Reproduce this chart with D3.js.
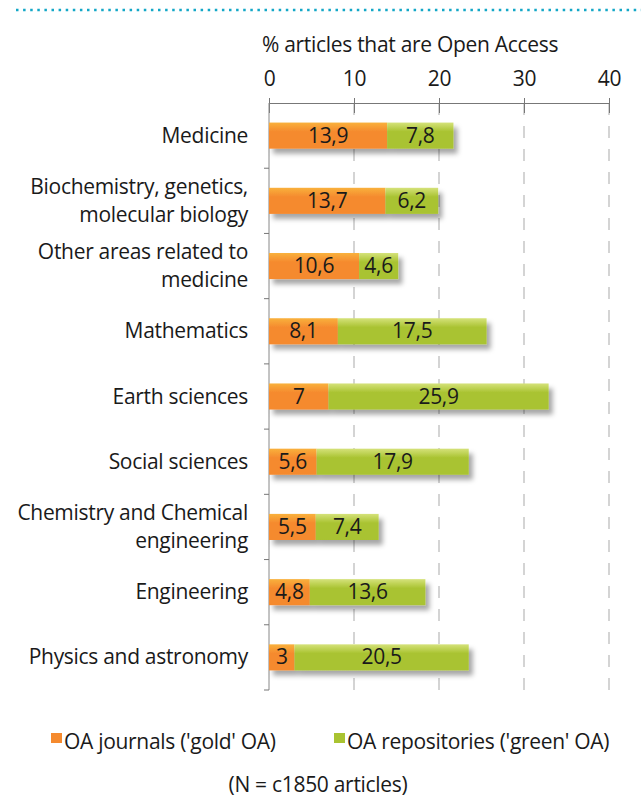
<!DOCTYPE html>
<html>
<head>
<meta charset="utf-8">
<script src="https://cdn.jsdelivr.net/npm/d3@7"></script>
<style>
  body { margin: 0; background: #fff; }
  svg text { font-family: "Open Sans", sans-serif; fill: #1a1a1a; letter-spacing: -0.3px; }
</style>
</head>
<body>
<svg id="chart" width="641" height="800"></svg>
<script>
const categories = [
  ['Medicine'],
  ['Biochemistry, genetics,', 'molecular biology'],
  ['Other areas related to', 'medicine'],
  ['Mathematics'],
  ['Earth sciences'],
  ['Social sciences'],
  ['Chemistry and Chemical', 'engineering'],
  ['Engineering'],
  ['Physics and astronomy']
];
const goldValues = [13.9, 13.7, 10.6, 8.1, 7, 5.6, 5.5, 4.8, 3];
const greenValues = [7.8, 6.2, 4.6, 17.5, 25.9, 17.9, 7.4, 13.6, 20.5];
const xTicks = [0, 10, 20, 30, 40];
const legendLabels = ["OA journals ('gold' OA)", "OA repositories ('green' OA)"];

const fontSize = 21;

const svg = d3.select('#chart'),
    margin = {top: 103, right: 32, bottom: 110, left: 269},
    width = 340,
    height = 587,
    g = svg.append('g').attr('transform', `translate(${margin.left},${margin.top})`);

const defs = svg.append('defs');
const grad = (id, top, bottom) => {
  const lg = defs.append('linearGradient').attr('id', id)
    .attr('x1', 0).attr('y1', 0).attr('x2', 0).attr('y2', 1);
  lg.append('stop').attr('offset', '0%').attr('stop-color', top);
  lg.append('stop').attr('offset', '35%').attr('stop-color', bottom);
  lg.append('stop').attr('offset', '100%').attr('stop-color', bottom);
};
grad('goldGrad', '#f9b13c', '#f58a2e');
grad('greenGrad', '#d5e27a', '#a9c331');
const shadow = defs.append('filter').attr('id', 'shadow')
  .attr('x', '-5%').attr('y', '-20%').attr('width', '115%').attr('height', '170%');
shadow.append('feDropShadow').attr('dx', 4).attr('dy', 5).attr('stdDeviation', 2.5)
  .attr('flood-color', '#000').attr('flood-opacity', 0.35);

// dotted rule at the top
svg.append('line')
  .attr('x1', 16).attr('x2', 641).attr('y1', 10).attr('y2', 10)
  .attr('stroke', '#13a7c7').attr('stroke-width', 2.5)
  .attr('stroke-dasharray', '2.5,4.6');

const x = d3.scaleLinear().domain([0, 40]).range([0, width]);
const y = d3.scaleBand().domain(d3.range(categories.length)).range([0, height]).paddingInner(0.6).paddingOuter(0.3);

// dashed gridlines
g.selectAll('.grid').data(xTicks.slice(1)).join('line')
  .attr('x1', d => x(d)).attr('x2', d => x(d))
  .attr('y1', 0).attr('y2', height)
  .attr('stroke', '#bdbdbd').attr('stroke-width', 1.3)
  .attr('stroke-dasharray', '12,11');

// top axis
const xAxis = g.append('g')
  .call(d3.axisTop(x).tickValues(xTicks).tickSize(5).tickPadding(12));
xAxis.select('.domain').attr('stroke', '#777');
xAxis.selectAll('.tick line').attr('stroke', '#777').attr('y2', -5).attr('y1', 10);
xAxis.selectAll('.tick text').attr('font-size', fontSize).attr('fill', '#1a1a1a')
  .style('font-family', '"Open Sans", sans-serif');

svg.append('text')
  .attr('x', 262).attr('y', 52)
  .attr('font-size', fontSize)
  .text('% articles that are Open Access');

// left axis with ticks between categories
g.append('line').attr('x1', 0).attr('x2', 0).attr('y1', 0).attr('y2', height)
  .attr('stroke', '#888');
g.selectAll('.ytick').data(d3.range(1, categories.length + 1)).join('line')
  .attr('x1', -5).attr('x2', 0)
  .attr('y1', d => d * height / categories.length).attr('y2', d => d * height / categories.length)
  .attr('stroke', '#777');

// category labels
const labels = g.selectAll('.cat').data(categories).join('text')
  .attr('text-anchor', 'end')
  .attr('font-size', fontSize)
  .attr('transform', (d, i) => `translate(-21,${y(i) + y.bandwidth() / 2})`);
labels.selectAll('tspan').data(d => d.map((t, j) => ({t, j, n: d.length}))).join('tspan')
  .attr('x', 0)
  .attr('y', d => (d.j - (d.n - 1) / 2) * 28 + 7)
  .text(d => d.t);

// bars
const rows = g.selectAll('.row').data(categories).join('g').attr('filter', 'url(#shadow)');
rows.append('rect')
  .attr('x', x(0)).attr('y', (d, i) => y(i))
  .attr('width', (d, i) => x(goldValues[i]) - x(0))
  .attr('height', y.bandwidth())
  .attr('fill', 'url(#goldGrad)');
rows.append('rect')
  .attr('x', (d, i) => x(goldValues[i])).attr('y', (d, i) => y(i))
  .attr('width', (d, i) => x(goldValues[i] + greenValues[i]) - x(goldValues[i]))
  .attr('height', y.bandwidth())
  .attr('fill', 'url(#greenGrad)');

const fmt = v => String(v).replace('.', ',');
g.selectAll('.gl').data(goldValues).join('text')
  .attr('x', d => x(d / 2)).attr('y', (d, i) => y(i) + y.bandwidth() / 2 + 7)
  .attr('text-anchor', 'middle').attr('font-size', fontSize)
  .text(d => fmt(d));
g.selectAll('.grl').data(greenValues).join('text')
  .attr('x', (d, i) => x(goldValues[i] + d / 2)).attr('y', (d, i) => y(i) + y.bandwidth() / 2 + 7)
  .attr('text-anchor', 'middle').attr('font-size', fontSize)
  .text(d => fmt(d));

// legend
const legend = svg.append('g').attr('transform', 'translate(0,749)');
const legendColors = ['#f58a2e', '#a9c331'];
const legendX = [51, 334];
legendLabels.forEach((l, i) => {
  legend.append('rect').attr('x', legendX[i]).attr('y', -16).attr('width', 11).attr('height', 10)
    .attr('fill', legendColors[i]);
  legend.append('text').attr('x', legendX[i] + 13).attr('y', 0).attr('font-size', fontSize).text(l);
});

svg.append('text')
  .attr('x', 318).attr('y', 792)
  .attr('text-anchor', 'middle').attr('font-size', fontSize)
  .text('(N = c1850 articles)');
</script>
</body>
</html>
